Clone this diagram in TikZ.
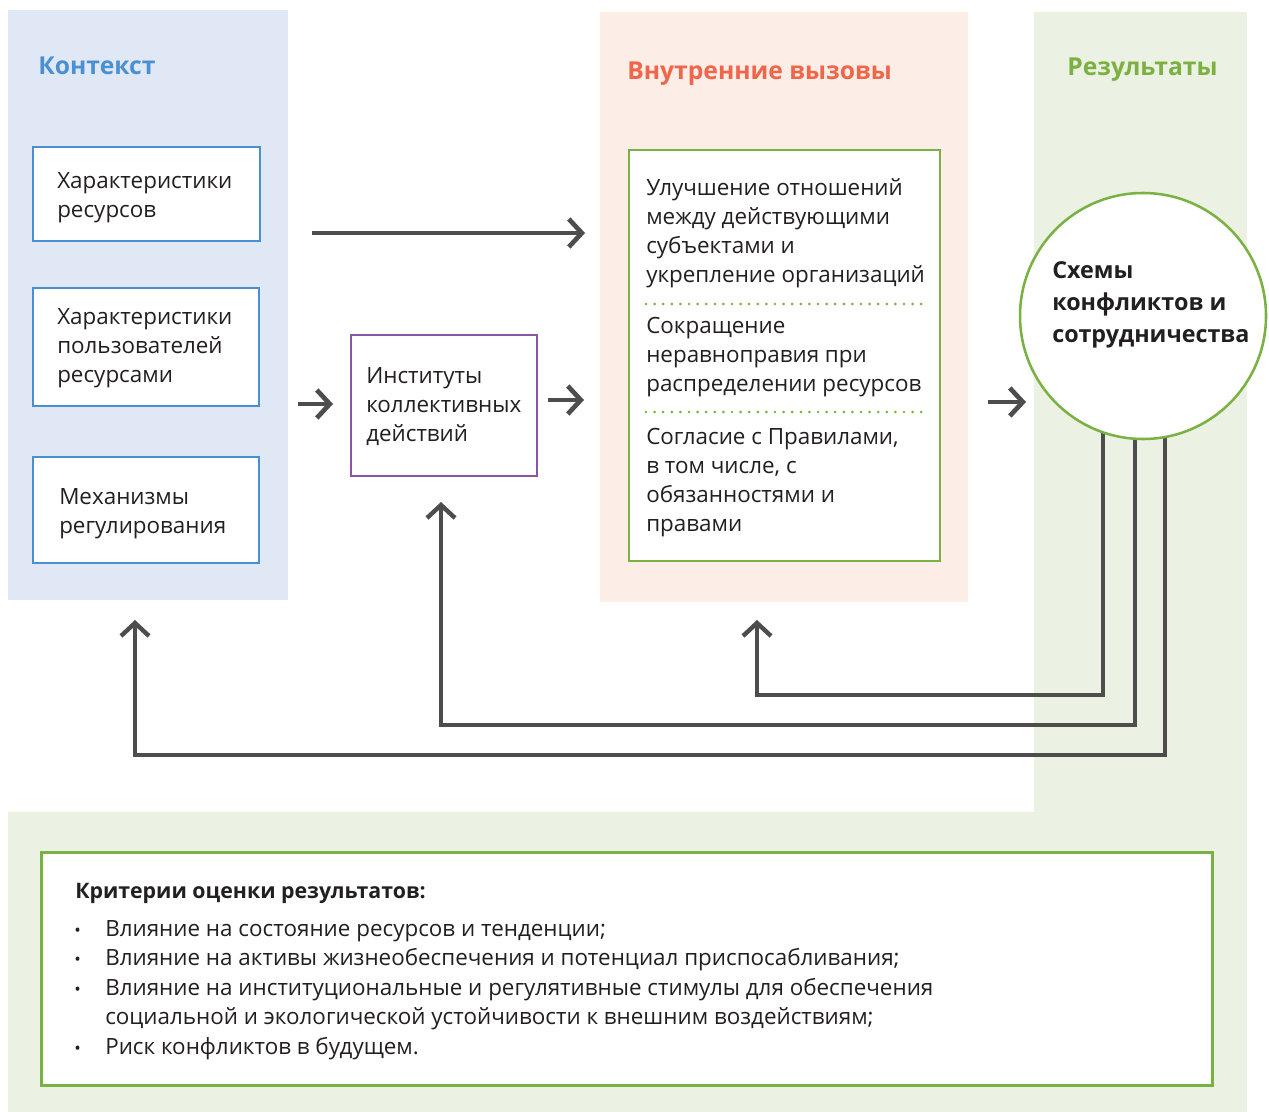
\documentclass[tikz,border=0pt]{standalone}
\usepackage{fontspec}
\setmainfont{Open Sans}
\usetikzlibrary{arrows.meta}
\newdimen\pxu \pxu=0.75pt
\definecolor{bluebg}{HTML}{E1E8F5}
\definecolor{pinkbg}{HTML}{FCEDE6}
\definecolor{greenbg}{HTML}{ECF2E3}
\definecolor{blueln}{HTML}{4A8FD2}
\definecolor{purpleln}{HTML}{8E54A4}
\definecolor{greenln}{HTML}{7AB143}
\definecolor{darkln}{HTML}{4D4D4D}
\definecolor{titleblue}{HTML}{4A90D2}
\definecolor{titlered}{HTML}{F0664A}
\definecolor{titlegreen}{HTML}{7CB041}
\definecolor{txt}{HTML}{231F20}
\begin{document}
\begin{tikzpicture}[x=0.75pt,y=-0.75pt,
  bodyfont/.style={font=\fontsize{16.8}{21.8}\selectfont, text=txt},
  titlefont/.style={font=\fontsize{18.5}{24}\selectfont\bfseries},
  ctxbox/.style={draw=blueln, line width=1.9pt, fill=white},
  instbox/.style={draw=purpleln, line width=1.9pt, fill=white},
  chalbox/.style={draw=greenln, line width=1.9pt, fill=white},
  blocktxt/.style={bodyfont, align=left, anchor=west, inner sep=0pt},
  linetxt/.style={bodyfont, anchor=west, inner sep=0pt, text height=11pt, text depth=3pt},
  sep/.style={draw=greenln, line width=2.2pt, line cap=round, dash pattern=on 0pt off 6.45pt},
  arr/.style={draw=darkln, line width=3.5pt, -{Straight Barb[length=9.75pt, width=21pt, line width=3.5pt]}},
  fbk/.style={draw=darkln, line width=3.3pt, -{Straight Barb[length=9.75pt, width=21pt, line width=3.3pt]}}
]
\useasboundingbox (0,0) rectangle (1269,1112);
% background panels
\fill[bluebg] (8,10) rectangle (288,600);
\fill[pinkbg] (600,12) rectangle (968,602);
\fill[greenbg] (1034,12) rectangle (1247,812);
\fill[greenbg] (8,812) rectangle (1247,1112);
% titles
\node[titlefont, text=titleblue, anchor=west, inner sep=0pt] (tctx) at (38,66) {Контекст};
\node[titlefont, text=titlered, anchor=west, inner sep=0pt] (tchal) at (627,73.5) {Внутренние вызовы};
\node[titlefont, text=titlegreen, anchor=west, inner sep=0pt] (tres) at (1067,69.5) {Результаты};
% context boxes
\node[ctxbox, minimum width=227\pxu, minimum height=94\pxu] (c1) at (146.5,194) {};
\node[blocktxt] (c1t) at (57,198) {Характеристики\\ресурсов};
\node[ctxbox, minimum width=226\pxu, minimum height=118\pxu] (c2) at (146,347) {};
\node[blocktxt] (c2t) at (57,348) {Характеристики\\пользователей\\ресурсами};
\node[ctxbox, minimum width=226\pxu, minimum height=106\pxu] (c3) at (146,510) {};
\node[blocktxt] (c3t) at (59,514) {Механизмы\\регулирования};
% institutions
\node[instbox, minimum width=186\pxu, minimum height=141\pxu] (inst) at (444,405.5) {};
\node[blocktxt] (instt) at (366,407) {Институты\\коллективных\\действий};
% challenges box
\node[chalbox, minimum width=311\pxu, minimum height=411\pxu] (chal) at (784.5,355.5) {};
\node[blocktxt] (ch1) at (646,233.5) {Улучшение отношений\\между действующими\\субъектами и\\укрепление организаций};
\node[blocktxt] (ch2) at (646,357.5) {Сокращение\\неравноправия при\\распределении ресурсов};
\node[blocktxt] (ch3) at (646,482.5) {Согласие с Правилами,\\в том числе, с\\обязанностями и\\правами};
\coordinate (s1a) at (646,304); \coordinate (s1b) at (922,304);
\coordinate (s2a) at (646,412); \coordinate (s2b) at (922,412);
\draw[sep] (s1a) -- (s1b);
\draw[sep] (s2a) -- (s2b);
% forward arrows
\coordinate (a1s) at (312,233); \coordinate (a1e) at (585,233);
\draw[arr] (a1s) -- (a1e);
\coordinate (a2s) at (298,404); \coordinate (a2e) at (333,404);
\draw[arr] (a2s) -- (a2e);
\coordinate (a3s) at (548,400); \coordinate (a3e) at (584,400);
\draw[arr] (a3s) -- (a3e);
\coordinate (a4s) at (988,402); \coordinate (a4e) at (1026,402);
\draw[arr] (a4s) -- (a4e);
% feedback lines
\coordinate (fa) at (1103,420); \coordinate (fbb) at (1135,420); \coordinate (fc) at (1165,420);
\coordinate (ta) at (757,620); \coordinate (tb) at (441,502); \coordinate (tc) at (135,620);
\draw[fbk] (fa) -- (1103,695) -- (757,695) -- (ta);
\draw[fbk] (fbb) -- (1135,725) -- (441,725) -- (tb);
\draw[fbk] (fc) -- (1165,755) -- (135,755) -- (tc);
% result circle
\node[circle, draw=greenln, line width=1.9pt, fill=white, minimum size=246\pxu, inner sep=0pt] (res) at (1143,316) {};
\node[font=\fontsize{17.5}{24}\selectfont\bfseries, text=txt, align=left, anchor=west, inner sep=0pt] (restxt) at (1052,305) {Схемы\\конфликтов и\\сотрудничества};
% criteria box
\node[draw=greenln, line width=2.25pt, fill=white, minimum width=1171\pxu, minimum height=233\pxu] (crit) at (626.5,968.5) {};
\node[linetxt, font=\fontsize{16}{21.8}\selectfont\bfseries] (ct) at (75,893) {Критерии оценки результатов:};
\node[linetxt, font=\fontsize{13}{16}\selectfont] (b1) at (74,931) {•};
\node[linetxt, font=\fontsize{13}{16}\selectfont] (b2) at (74,960) {•};
\node[linetxt, font=\fontsize{13}{16}\selectfont] (b3) at (74,990) {•};
\node[linetxt, font=\fontsize{13}{16}\selectfont] (b5) at (74,1049) {•};
\node[linetxt] (l1) at (105,931) {Влияние на состояние ресурсов и тенденции;};
\node[linetxt] (l2) at (105,960) {Влияние на активы жизнеобеспечения и потенциал приспосабливания;};
\node[linetxt] (l3) at (105,990) {Влияние на институциональные и регулятивные стимулы для обеспечения};
\node[linetxt] (l4) at (105,1019) {социальной и экологической устойчивости к внешним воздействиям;};
\node[linetxt] (l5) at (105,1049) {Риск конфликтов в будущем.};
\end{tikzpicture}
\end{document}
